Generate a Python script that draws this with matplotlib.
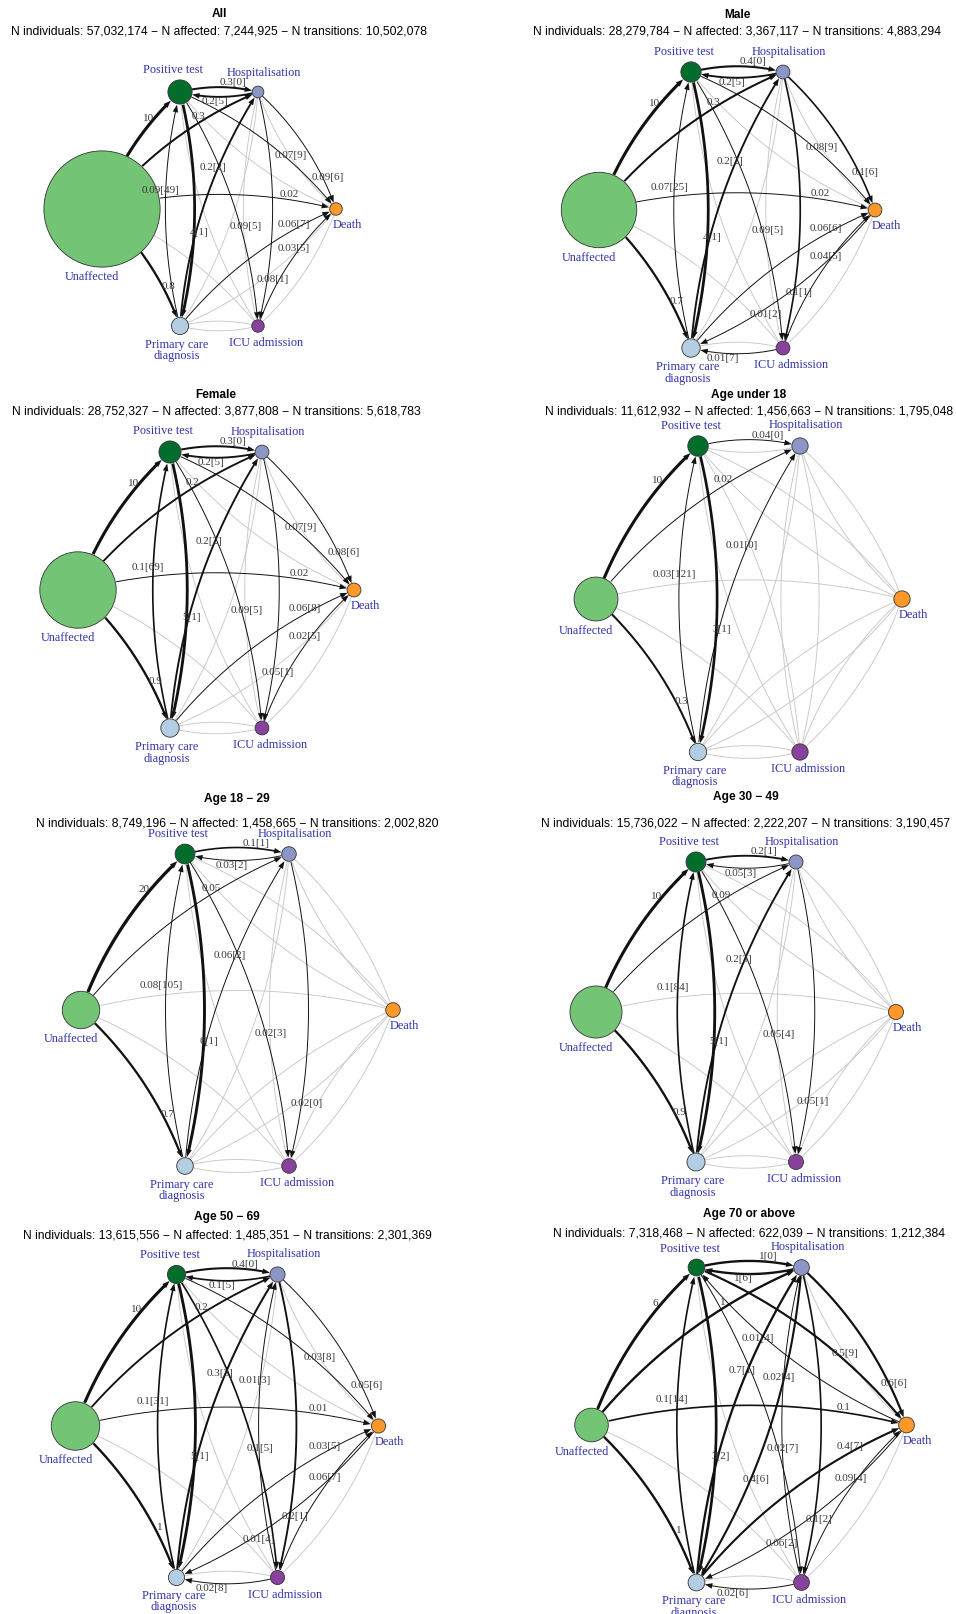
import numpy as np
import matplotlib.pyplot as plt
from matplotlib.patches import Circle, Polygon

W, H, DPI = 956, 1614, 100

# ---- data -------------------------------------------------------------------
node_keys = ['U', 'P', 'H', 'D', 'I', 'C']
node_names = ['Unaffected', 'Positive test', 'Hospitalisation', 'Death',
              'ICU admission', 'Primary care\ndiagnosis']
node_colors = ['#74c476', '#006d2c', '#8c96c6', '#fe9929', '#88419d', '#b3cde3']

panel_titles = ['All', 'Male', 'Female', 'Age under 18', 'Age 18 \u2212 29',
                'Age 30 \u2212 49', 'Age 50 \u2212 69', 'Age 70 or above']
n_individuals = [57032174, 28279784, 28752327, 11612932, 8749196, 15736022, 13615556, 7318468]
n_affected = [7244925, 3367117, 3877808, 1456663, 1458665, 2222207, 1485351, 622039]
n_transitions = [10502078, 4883294, 5618783, 1795048, 2002820, 3190457, 2301369, 1212384]

# (from, to, rate, median days)
edges_all = [('U', 'P', 10, None), ('U', 'H', 0.3, None), ('U', 'D', 0.02, None), ('U', 'C', 0.8, None),
             ('P', 'H', 0.3, 0), ('H', 'P', 0.2, 5), ('P', 'D', 0.07, 9), ('H', 'D', 0.09, 6),
             ('P', 'C', 4, 1), ('C', 'P', 0.09, 49), ('C', 'H', 0.2, 2), ('P', 'I', 0.09, 5),
             ('C', 'D', 0.06, 7), ('I', 'D', 0.03, 5), ('H', 'I', 0.08, 1)]
edges_male = [('U', 'P', 10, None), ('U', 'H', 0.3, None), ('U', 'D', 0.02, None), ('U', 'C', 0.7, None),
              ('P', 'H', 0.4, 0), ('H', 'P', 0.2, 5), ('P', 'D', 0.08, 9), ('H', 'D', 0.1, 6),
              ('P', 'C', 4, 1), ('C', 'P', 0.07, 25), ('C', 'H', 0.2, 2), ('P', 'I', 0.09, 5),
              ('C', 'D', 0.06, 6), ('I', 'D', 0.04, 5), ('H', 'I', 0.1, 1), ('D', 'C', 0.01, 2),
              ('I', 'C', 0.01, 7)]
edges_female = [('U', 'P', 10, None), ('U', 'H', 0.2, None), ('U', 'D', 0.02, None), ('U', 'C', 0.9, None),
                ('P', 'H', 0.3, 0), ('H', 'P', 0.2, 5), ('P', 'D', 0.07, 9), ('H', 'D', 0.08, 6),
                ('P', 'C', 5, 1), ('C', 'P', 0.1, 69), ('C', 'H', 0.2, 2), ('P', 'I', 0.09, 5),
                ('C', 'D', 0.06, 8), ('I', 'D', 0.02, 5), ('H', 'I', 0.05, 1)]
edges_u18 = [('U', 'P', 10, None), ('U', 'H', 0.02, None), ('U', 'C', 0.3, None),
             ('P', 'H', 0.04, 0), ('C', 'H', 0.01, 0), ('C', 'P', 0.03, 121), ('P', 'C', 3, 1)]
edges_18_29 = [('U', 'P', 20, None), ('U', 'H', 0.05, None), ('U', 'C', 0.7, None),
               ('P', 'H', 0.1, 1), ('H', 'P', 0.03, 2), ('C', 'H', 0.06, 2), ('C', 'P', 0.08, 105),
               ('P', 'C', 6, 1), ('P', 'I', 0.02, 3), ('H', 'I', 0.02, 0)]
edges_30_49 = [('U', 'P', 10, None), ('U', 'H', 0.09, None), ('U', 'C', 0.9, None),
               ('P', 'H', 0.2, 1), ('H', 'P', 0.05, 3), ('C', 'H', 0.2, 3), ('C', 'P', 0.1, 84),
               ('P', 'C', 5, 1), ('P', 'I', 0.05, 4), ('H', 'I', 0.05, 1)]
edges_50_69 = [('U', 'P', 10, None), ('U', 'H', 0.2, None), ('U', 'D', 0.01, None), ('U', 'C', 1, None),
               ('P', 'H', 0.4, 0), ('H', 'P', 0.1, 5), ('C', 'H', 0.3, 3), ('P', 'D', 0.03, 8),
               ('H', 'D', 0.05, 6), ('C', 'P', 0.1, 31), ('P', 'I', 0.1, 5), ('I', 'H', 0.01, 3),
               ('P', 'C', 5, 1), ('C', 'D', 0.03, 5), ('H', 'I', 0.2, 1), ('I', 'D', 0.06, 7),
               ('D', 'C', 0.01, 4), ('I', 'C', 0.02, 8)]
edges_70 = [('U', 'P', 6, None), ('U', 'H', 1, None), ('U', 'D', 0.1, None), ('U', 'C', 1, None),
            ('P', 'H', 1, 0), ('H', 'P', 1, 6), ('D', 'P', 0.01, 4), ('P', 'D', 0.5, 9),
            ('H', 'D', 0.6, 6), ('C', 'H', 0.7, 1), ('C', 'P', 0.1, 14), ('P', 'I', 0.02, 7),
            ('C', 'D', 0.4, 7), ('H', 'I', 0.1, 2), ('I', 'H', 0.02, 4), ('P', 'C', 3, 2),
            ('H', 'C', 0.4, 6), ('I', 'D', 0.09, 4), ('D', 'C', 0.06, 2), ('I', 'C', 0.02, 6)]
panel_edges = [edges_all, edges_male, edges_female, edges_u18,
               edges_18_29, edges_30_49, edges_50_69, edges_70]

# vertex radii (layout units), order as node_keys
vertex_radius = [[1.49, 0.31, 0.15, 0.16, 0.16, 0.22],
                 [0.82, 0.22, 0.15, 0.15, 0.15, 0.20],
                 [0.83, 0.24, 0.15, 0.15, 0.15, 0.20],
                 [0.43, 0.20, 0.16, 0.16, 0.16, 0.17],
                 [0.36, 0.19, 0.14, 0.14, 0.14, 0.16],
                 [0.52, 0.20, 0.14, 0.15, 0.15, 0.18],
                 [0.48, 0.18, 0.15, 0.14, 0.14, 0.16],
                 [0.32, 0.16, 0.15, 0.15, 0.15, 0.16]]

# ---- layout / style ---------------------------------------------------------
layout = {'U': (-3, 0), 'P': (-1, 3), 'H': (1, 3), 'D': (3, 0), 'I': (1, -3), 'C': (-1, -3)}
panel_cx = [219, 737, 216, 749, 237, 746, 227, 749]
panel_cy = [209, 210, 590, 599, 1010, 1012, 1426, 1425]
panel_unit = [39, 46, 46, 51, 52, 50, 50.5, 52.5]
title_y = [14, 15, 395, 395, 799, 797, 1217, 1214]
sub_y = [31, 32, 412, 412, 824, 823, 1235, 1234]

CURVE = 0.25
XR, YR = 4.6, 4.0
LABEL_COL = '#3232aa'
EDGE_TXT = '#3a3a3a'
LABEL_SHIFT = 5  # px, edge labels sit just off the convex side of their edge
# where along each edge its label sits (fraction from the source)
label_t = {('U', 'D'): 0.8, ('H', 'D'): 0.78, ('C', 'D'): 0.78, ('U', 'P'): 0.72,
           ('U', 'C'): 0.72, ('U', 'H'): 0.68, ('P', 'H'): 0.68, ('C', 'P'): 0.58,
           ('H', 'P'): 0.55, ('P', 'C'): 0.6, ('P', 'I'): 0.6, ('H', 'I'): 0.8,
           ('I', 'D'): 0.6}
# node label offsets (pixels from anchor, +y up)
label_off = {'U': (-10, -10), 'P': (-7, 10), 'H': (6, 13), 'D': (11, -16),
             'I': (8, -17), 'C': (-3, -16)}

plt.rcParams['font.family'] = 'Liberation Sans'


def bezier(a, b, n=240):
    d = b - a
    q = (a + b) / 2 + CURVE / 2 * np.array([-d[1], d[0]])
    t = np.linspace(0, 1, n)[:, None]
    return (1 - t) ** 2 * a + 2 * t * (1 - t) * q + t ** 2 * b


def edge_width(v):
    return 0.7 if v < 0.1 else 1.2 + 0.5 * np.log10(v / 0.1)


def draw_edge(ax, a, b, ra, rb, u, color, lw, arrow):
    pts = bezier(a, b)
    da = np.hypot(*(pts - a).T)
    db = np.hypot(*(pts - b).T)
    seg = pts[(da > ra) & (db > rb)]
    if arrow:
        tip = seg[-1]
        direc = seg[-1] - seg[-4]
        direc = direc / np.hypot(*direc)
        L, hw = 7.5 / u, 2.8 / u
        base = tip - L * direc
        nrm = np.array([-direc[1], direc[0]])
        line = seg[np.hypot(*(seg - tip).T) > L * 0.8]
        ax.plot(line[:, 0], line[:, 1], color=color, lw=lw, solid_capstyle='butt',
                clip_on=False, zorder=3)
        ax.add_patch(Polygon([tip, base + hw * nrm, base - hw * nrm], closed=True,
                             color=color, lw=0, clip_on=False, zorder=3))
    else:
        ax.plot(seg[:, 0], seg[:, 1], color=color, lw=lw, clip_on=False, zorder=2)


fig = plt.figure(figsize=(W / DPI, H / DPI), dpi=DPI)

for i in range(8):
    cx, cy, u = panel_cx[i], panel_cy[i], panel_unit[i]
    ax = fig.add_axes([(cx - XR * u) / W, 1 - (cy + YR * u) / H, 2 * XR * u / W, 2 * YR * u / H])
    ax.set_xlim(-XR, XR)
    ax.set_ylim(-YR, YR)
    ax.set_axis_off()

    rad = dict(zip(node_keys, vertex_radius[i]))
    xy = {k: np.array(layout[k], dtype=float) for k in node_keys}
    black = {(s, t): (v, d) for s, t, v, d in panel_edges[i]}

    # background (non-significant) transitions
    for s in node_keys:
        for t in node_keys:
            if s == t or t == 'U' or (s, t) in black:
                continue
            draw_edge(ax, xy[s], xy[t], rad[s], rad[t], u, '#c8c8c8', 0.65, False)

    for (s, t), (v, d) in black.items():
        draw_edge(ax, xy[s], xy[t], rad[s], rad[t], u, '#111111', edge_width(v), True)
        lab = f"{v:g}" + (f"[{d}]" if d is not None else "")
        p = bezier(xy[s], xy[t], n=101)[int(round(label_t.get((s, t), 0.65) * 100))]
        dv = xy[t] - xy[s]
        side = np.array([-dv[1], dv[0]]) / np.hypot(*dv)
        p = p + side * LABEL_SHIFT / u
        ax.text(p[0], p[1], lab, fontsize=8, family='Liberation Serif', color=EDGE_TXT,
                ha='center', va='center', zorder=5)

    for k, name, col in zip(node_keys, node_names, node_colors):
        x, y = xy[k]
        r = rad[k]
        ax.add_patch(Circle((x, y), r, facecolor=col, edgecolor='#333333', lw=0.6,
                            clip_on=False, zorder=4))
        if k == 'U' or k == 'C':
            anchor = (x, y - r)
        elif k in ('P', 'H'):
            anchor = (x, y + r)
        else:
            anchor = (x, y)
        ox, oy = label_off[k]
        ax.annotate(name, xy=anchor, xytext=(ox * 0.72, oy * 0.72), textcoords='offset points',
                    ha='center', va='center', fontsize=8.8, family='Liberation Serif',
                    color=LABEL_COL, linespacing=0.95, annotation_clip=False, zorder=6)

    fig.text(cx / W, 1 - title_y[i] / H, panel_titles[i], ha='center', va='center',
             fontsize=8.6, fontweight='bold')
    sub = (f"N individuals: {n_individuals[i]:,} \u2212 N affected: {n_affected[i]:,} "
           f"\u2212 N transitions: {n_transitions[i]:,}")
    fig.text(cx / W, 1 - sub_y[i] / H, sub, ha='center', va='center', fontsize=8.7)

fig.savefig('out.png', dpi=DPI)
